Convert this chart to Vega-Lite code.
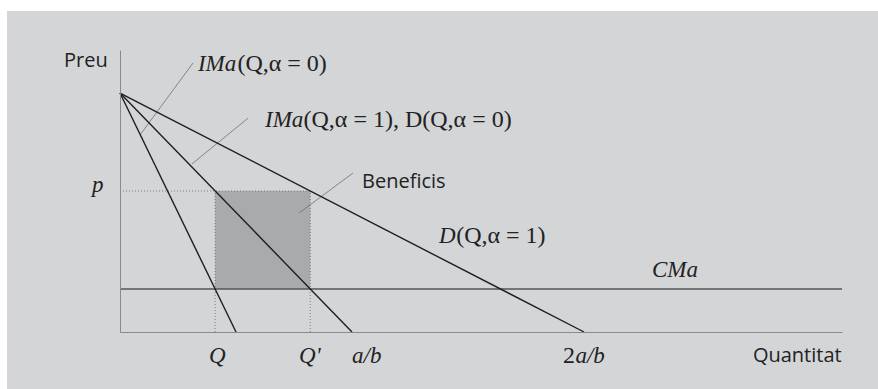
{
  "$schema": "https://vega.github.io/schema/vega-lite/v6.json",
  "width": 722,
  "height": 282,
  "autosize": {"type": "none"},
  "padding": {"left": 120, "top": 50, "right": 36, "bottom": 57},
  "background": "white",
  "config": {"view": {"stroke": null}},
  "datasets": {
    "panel": [{"x0": -0.487, "x1": 3.267, "y0": -0.2385, "y1": 1.343}],
    "curves": [
      {"curve": "IMa(α=0)", "Q": 0, "P": 1},
      {"curve": "IMa(α=0)", "Q": 0.5, "P": 0},
      {"curve": "IMa(α=1), D(α=0)", "Q": 0, "P": 1},
      {"curve": "IMa(α=1), D(α=0)", "Q": 1, "P": 0},
      {"curve": "D(α=1)", "Q": 0, "P": 1},
      {"curve": "D(α=1)", "Q": 2, "P": 0}
    ],
    "cma": [{"Q": 0, "P": 0.18}, {"Q": 3.112, "P": 0.18}],
    "profit": [{"Q0": 0.41, "Q1": 0.82, "P0": 0.18, "P1": 0.59}],
    "guides": [
      {"Qa": 0, "Pa": 0.59, "Qb": 0.82, "Pb": 0.59},
      {"Qa": 0.41, "Pa": 0, "Qb": 0.41, "Pb": 0.59},
      {"Qa": 0.82, "Pa": 0, "Qb": 0.82, "Pb": 0.59}
    ],
    "leaders": [
      {"Qa": 0.086, "Pa": 0.824, "Qb": 0.315, "Pb": 1.126},
      {"Qa": 0.31, "Pa": 0.703, "Qb": 0.552, "Pb": 0.895},
      {"Qa": 0.772, "Pa": 0.498, "Qb": 1.004, "Pb": 0.665}
    ],
    "italicText": [
      {"label": "IMa", "Q": 0.336, "P": 1.092},
      {"label": "IMa", "Q": 0.625, "P": 0.858},
      {"label": "D", "Q": 1.375, "P": 0.372},
      {"label": "p", "Q": -0.121, "P": 0.586},
      {"label": "CMa", "Q": 2.293, "P": 0.23},
      {"label": "Q", "Q": 0.384, "P": -0.13},
      {"label": "Q'", "Q": 0.772, "P": -0.13},
      {"label": "a/b", "Q": 1.0, "P": -0.13},
      {"label": "a/b", "Q": 1.963, "P": -0.13}
    ],
    "romanText": [
      {"label": "(Q,α = 0)", "Q": 0.506, "P": 1.092},
      {"label": "(Q,α = 1), D(Q,α = 0)", "Q": 0.791, "P": 0.858},
      {"label": "(Q,α = 1)", "Q": 1.449, "P": 0.372},
      {"label": "2", "Q": 1.909, "P": -0.13}
    ],
    "sansText": [
      {"label": "Preu", "Q": -0.241, "P": 1.109},
      {"label": "Beneficis", "Q": 1.043, "P": 0.603},
      {"label": "Quantitat", "Q": 2.728, "P": -0.126}
    ]
  },
  "layer": [
    {
      "data": {"name": "panel"},
      "mark": {"type": "rect", "color": "#d4d5d7"},
      "encoding": {
        "x": {"field": "x0", "type": "quantitative", "scale": {"domain": [0, 3.112], "nice": false, "zero": false},
              "axis": {"domain": true, "domainColor": "#8a8a8a", "domainWidth": 1, "ticks": false, "labels": false, "grid": false, "title": null, "zindex": 1}},
        "x2": {"field": "x1"},
        "y": {"field": "y0", "type": "quantitative", "scale": {"domain": [0, 1.18], "nice": false, "zero": false},
              "axis": {"domain": true, "domainColor": "#8a8a8a", "domainWidth": 1, "ticks": false, "labels": false, "grid": false, "title": null, "zindex": 1}},
        "y2": {"field": "y1"}
      }
    },
    {
      "data": {"name": "profit"},
      "mark": {"type": "rect", "color": "#a9aaac"},
      "encoding": {
        "x": {"field": "Q0", "type": "quantitative"},
        "x2": {"field": "Q1"},
        "y": {"field": "P0", "type": "quantitative"},
        "y2": {"field": "P1"}
      }
    },
    {
      "data": {"name": "guides"},
      "mark": {"type": "rule", "color": "#666666", "strokeWidth": 0.8, "strokeDash": [1, 2]},
      "encoding": {
        "x": {"field": "Qa", "type": "quantitative"},
        "y": {"field": "Pa", "type": "quantitative"},
        "x2": {"field": "Qb"},
        "y2": {"field": "Pb"}
      }
    },
    {
      "data": {"name": "leaders"},
      "mark": {"type": "rule", "color": "#707070", "strokeWidth": 0.8},
      "encoding": {
        "x": {"field": "Qa", "type": "quantitative"},
        "y": {"field": "Pa", "type": "quantitative"},
        "x2": {"field": "Qb"},
        "y2": {"field": "Pb"}
      }
    },
    {
      "data": {"name": "cma"},
      "mark": {"type": "line", "color": "#555555", "strokeWidth": 1.6},
      "encoding": {
        "x": {"field": "Q", "type": "quantitative"},
        "y": {"field": "P", "type": "quantitative"}
      }
    },
    {
      "data": {"name": "curves"},
      "mark": {"type": "line", "color": "#1e1e1e", "strokeWidth": 1.4},
      "encoding": {
        "x": {"field": "Q", "type": "quantitative"},
        "y": {"field": "P", "type": "quantitative"},
        "detail": {"field": "curve", "type": "nominal"}
      }
    },
    {
      "data": {"name": "italicText"},
      "mark": {"type": "text", "font": "Liberation Serif", "fontStyle": "italic", "fontSize": 23, "align": "left", "baseline": "alphabetic", "color": "#222222"},
      "encoding": {
        "x": {"field": "Q", "type": "quantitative"},
        "y": {"field": "P", "type": "quantitative"},
        "text": {"field": "label"}
      }
    },
    {
      "data": {"name": "romanText"},
      "mark": {"type": "text", "font": "Liberation Serif", "fontSize": 24, "align": "left", "baseline": "alphabetic", "color": "#222222"},
      "encoding": {
        "x": {"field": "Q", "type": "quantitative"},
        "y": {"field": "P", "type": "quantitative"},
        "text": {"field": "label"}
      }
    },
    {
      "data": {"name": "sansText"},
      "mark": {"type": "text", "font": "Open Sans", "fontSize": 20, "align": "left", "baseline": "alphabetic", "color": "#222222"},
      "encoding": {
        "x": {"field": "Q", "type": "quantitative"},
        "y": {"field": "P", "type": "quantitative"},
        "text": {"field": "label"}
      }
    }
  ]
}
